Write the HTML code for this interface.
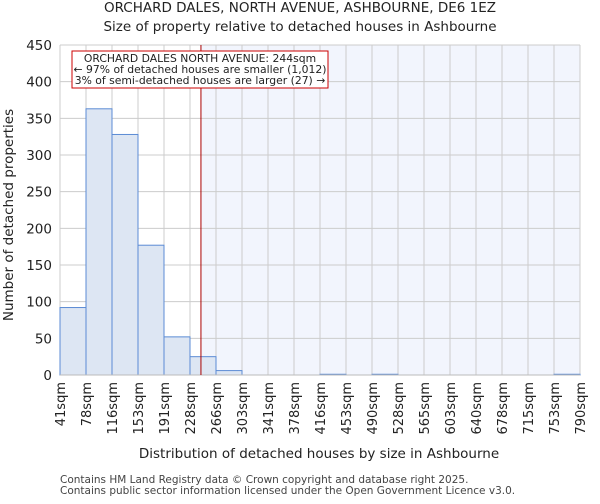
<!DOCTYPE html>
<html><head><meta charset="utf-8"><style>
body{margin:0;background:#fff;font-family:"DejaVu Sans","Liberation Sans",sans-serif;}
svg text{font-family:"DejaVu Sans","Liberation Sans",sans-serif;}
</style></head><body>
<svg id="chart" width="600" height="500" xmlns="http://www.w3.org/2000/svg">
<text x="300" y="12" text-anchor="middle" font-size="13.5" fill="#222">ORCHARD DALES, NORTH AVENUE, ASHBOURNE, DE6 1EZ</text>
<text x="300" y="31" text-anchor="middle" font-size="13.5" fill="#222">Size of property relative to detached houses in Ashbourne</text>
<g id="grid"></g><g id="bars"></g><g id="axes"></g>
<text x="319" y="458" text-anchor="middle" font-size="13.5" fill="#222">Distribution of detached houses by size in Ashbourne</text>
<text transform="translate(13,215) rotate(-90)" text-anchor="middle" font-size="13.5" fill="#222">Number of detached properties</text>
<text x="60" y="483" font-size="10.5" fill="#444">Contains HM Land Registry data © Crown copyright and database right 2025.</text>
<text x="60" y="494" font-size="10.5" fill="#444">Contains public sector information licensed under the Open Government Licence v3.0.</text>
</svg>
<script>
const binLabels=["41sqm","78sqm","116sqm","153sqm","191sqm","228sqm","266sqm","303sqm","341sqm","378sqm","416sqm","453sqm","490sqm","528sqm","565sqm","603sqm","640sqm","678sqm","715sqm","753sqm","790sqm"];
const binStarts=[41,78,116,153,191,228,266,303,341,378,416,453,490,528,565,603,640,678,715,753,790];
const counts=[92,363,328,177,52,25,6,0,0,0,1,0,1,0,0,0,0,0,0,1];
const yTicks=[0,50,100,150,200,250,300,350,400,450];
const propertySize=244;
const NS="http://www.w3.org/2000/svg";
const L=60,R=580,T=45,B=375,YMAX=450;
const nb=counts.length,bw=(R-L)/nb;
const xi=i=>L+i*bw;
const y=v=>B-v/YMAX*(B-T);
function xs(v){for(let i=0;i<nb;i++){if(v<=binStarts[i+1])return xi(i)+(v-binStarts[i])/(binStarts[i+1]-binStarts[i])*bw;}return R;}
function mk(p,t,a){const e=document.createElementNS(NS,t);for(const k in a)e.setAttribute(k,a[k]);p.appendChild(e);return e;}
const grid=document.getElementById('grid'),bars=document.getElementById('bars'),axes=document.getElementById('axes');
const px=xs(propertySize);
const shade=mk(grid,'rect',{x:px,y:T,width:R-px,height:B-T,fill:'#f2f5fd'});


yTicks.forEach(t=>{
 const g=mk(grid,'line',{x1:L,x2:R,y1:y(t),y2:y(t),stroke:'#cccccc','stroke-width':1});
 
 
 const tx=mk(axes,'text',{x:L-8,y:y(t)+5,'text-anchor':'end','font-size':'13.5',fill:'#222'});tx.textContent=t;
 
 
});
for(let i=0;i<=nb;i++){
 const g=mk(grid,'line',{x1:xi(i),x2:xi(i),y1:T,y2:B,stroke:'#cccccc','stroke-width':1});
 
 
 const tx=mk(axes,'text',{transform:`translate(${xi(i)+5},382) rotate(-90)`,'text-anchor':'end','font-size':'13',fill:'#222'});tx.textContent=binLabels[i];
 
 
}
counts.forEach((c,i)=>{
 if(c<=0)return;
 const r=mk(bars,'rect',{x:xi(i),y:y(c),width:bw,height:B-y(c),fill:'#dde6f3',stroke:'#5b8bd4','stroke-width':1});
 
 
});
const ax=mk(axes,'line',{x1:L,x2:R,y1:B,y2:B,stroke:'#bbb','stroke-width':1});


const ml=mk(axes,'line',{x1:px,x2:px,y1:T,y2:B,stroke:'#aa0000','stroke-width':1});


const box=mk(axes,'rect',{x:72,y:51,width:256,height:37,fill:'#fff',stroke:'#cc0000','stroke-width':1});


["ORCHARD DALES NORTH AVENUE: 244sqm","← 97% of detached houses are smaller (1,012)","3% of semi-detached houses are larger (27) →"].forEach((s,k)=>{
 const t=mk(axes,'text',{x:200,y:62+k*11,'text-anchor':'middle','font-size':'10.8',fill:'#222'});t.textContent=s;
 
 
});
</script>
</body></html>
